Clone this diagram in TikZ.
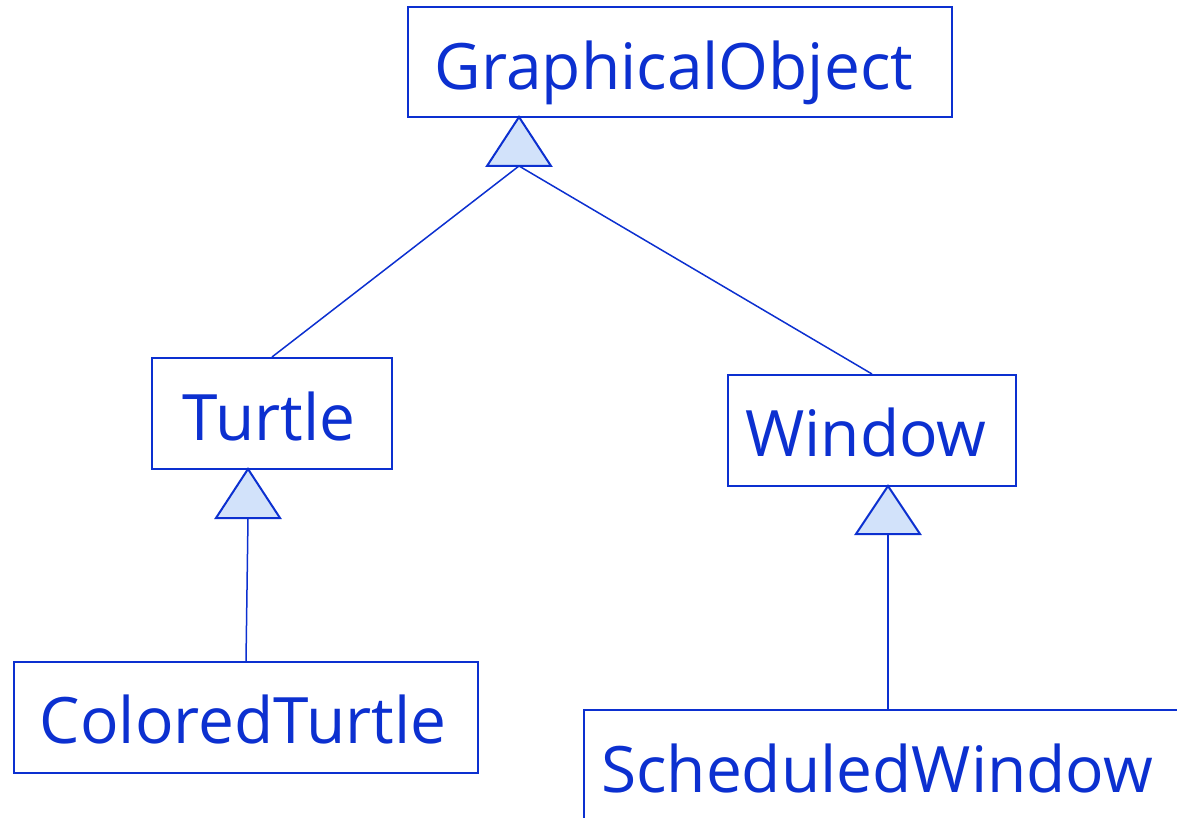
\documentclass[tikz,border=0pt]{standalone}
\usepackage{fontspec}
\setmainfont{Open Sans}
\definecolor{umlblue}{RGB}{12,48,208}
\definecolor{trifill}{RGB}{210,226,250}
\begin{document}
\begin{tikzpicture}[x=1pt,y=-1pt,
  cls/.style={draw=umlblue,line width=2pt,fill=white,inner sep=0pt},
  lbl/.style={text=umlblue,font=\fontsize{64}{70}\selectfont,anchor=base,inner sep=0pt},
  tri/.style={draw=umlblue,line width=2pt,fill=trifill,line join=miter},
  link/.style={draw=umlblue,line width=1.5pt}]
\useasboundingbox (0,0) rectangle (1177,818);
% class boxes
\node[cls,minimum width=544pt,minimum height=110pt] (go) at (680,62) {};
\node[cls,minimum width=240pt,minimum height=111pt] (turtle) at (272,413.5) {};
\node[cls,minimum width=288pt,minimum height=111pt] (window) at (872,430.5) {};
\node[cls,minimum width=464pt,minimum height=111pt] (ct) at (246,717.5) {};
\node[cls,minimum width=616pt,minimum height=120pt] (sw) at (892,770) {};
% labels
\node[lbl] (goT) at (674,90) {GraphicalObject};
\node[lbl] (turtleT) at (269,440) {Turtle};
\node[lbl] (windowT) at (866,456) {Window};
\node[lbl] (ctT) at (243,743) {ColoredTurtle};
\node[lbl] (swT) at (877,792) {ScheduledWindow};
% generalization triangles
\coordinate (goA) at (519,117);
\coordinate (goB) at (519,166);
\coordinate (tuA) at (248,469);
\coordinate (tuB) at (248,518);
\coordinate (wiA) at (888,486);
\coordinate (wiB) at (888,534);
\draw[link] (goB) -- (turtle.north);
\draw[link] (goB) -- (window.north);
\draw[link] (tuB) -- (ct.north);
\draw[link] (wiB) -- (sw.north -| wiB);
\draw[tri] (goA) -- ++(32,49) -- ++(-64,0) -- cycle;
\draw[tri] (tuA) -- ++(32,49) -- ++(-64,0) -- cycle;
\draw[tri] (wiA) -- ++(32,48) -- ++(-64,0) -- cycle;
\end{tikzpicture}
\end{document}
